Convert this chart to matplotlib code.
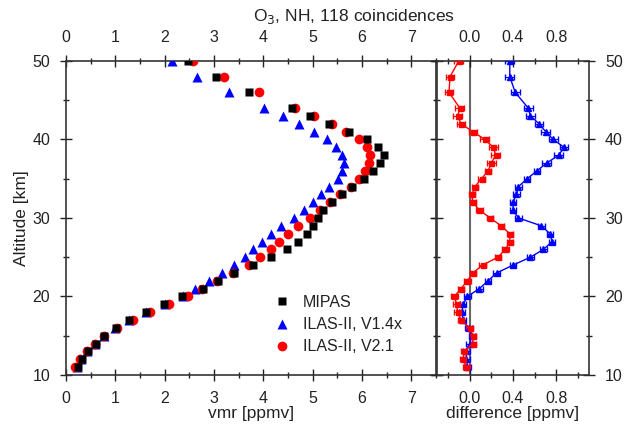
import matplotlib
matplotlib.use("Agg")
import matplotlib.pyplot as plt
from matplotlib.ticker import MultipleLocator

plt.rcParams['font.family'] = ['Liberation Sans', 'DejaVu Sans']
plt.rcParams['font.size'] = 11.5

# altitude grid [km]
alt = [11, 12, 13, 14, 15, 16, 17, 18, 19, 20, 21, 22, 23, 24, 25, 26, 27, 28,
       29, 30, 31, 32, 33, 34, 35, 36, 37, 38, 39, 40, 41, 42, 43, 44, 46, 48, 50]

# vmr profiles [ppmv]
mipas = [0.25, 0.32, 0.45, 0.60, 0.78, 1.01, 1.28, 1.62, 1.99, 2.35, 2.77, 3.09,
         3.41, 3.80, 4.16, 4.48, 4.71, 4.89, 5.00, 5.10, 5.22, 5.39, 5.59, 5.80,
         6.04, 6.23, 6.36, 6.44, 6.32, 6.10, 5.73, 5.34, 4.94, 4.58, 3.72, 3.04, 2.48]
ilas_v14 = [0.22, 0.30, 0.43, 0.58, 0.78, 1.00, 1.28, 1.62, 2.00, 2.38, 2.62, 2.90,
            3.17, 3.40, 3.62, 3.80, 3.97, 4.15, 4.35, 4.62, 4.83, 5.00, 5.17, 5.34,
            5.51, 5.59, 5.63, 5.59, 5.48, 5.29, 5.02, 4.73, 4.39, 4.02, 3.31, 2.65, 2.15]
ilas_v21 = [0.18, 0.28, 0.42, 0.58, 0.78, 1.03, 1.35, 1.70, 2.08, 2.47, 2.75, 3.06,
            3.39, 3.70, 3.94, 4.15, 4.32, 4.51, 4.71, 4.94, 5.14, 5.36, 5.55, 5.78,
            5.93, 6.06, 6.15, 6.17, 6.11, 5.95, 5.68, 5.39, 5.02, 4.65, 3.92, 3.21, 2.58]

# differences MIPAS - ILAS [ppmv]
diff_v14 = [-0.02, -0.03, -0.03, 0.00, 0.02, -0.01, -0.06, -0.07, -0.06, -0.02,
            0.09, 0.17, 0.25, 0.40, 0.56, 0.68, 0.76, 0.74, 0.66, 0.45, 0.40, 0.40,
            0.43, 0.45, 0.53, 0.62, 0.71, 0.82, 0.87, 0.77, 0.70, 0.64, 0.56, 0.54,
            0.42, 0.37, 0.37]
diff_v21 = [-0.03, -0.06, -0.05, 0.03, 0.03, 0.00, -0.08, -0.11, -0.12, -0.14,
            -0.08, -0.02, 0.03, 0.12, 0.26, 0.33, 0.37, 0.37, 0.29, 0.19, 0.09, 0.03,
            0.02, 0.05, 0.11, 0.17, 0.20, 0.24, 0.22, 0.14, 0.03, -0.08, -0.11, -0.09,
            -0.19, -0.18, -0.10]
diff_err = [0.03, 0.03, 0.03, 0.03, 0.03, 0.03, 0.03, 0.03, 0.03, 0.03,
            0.03, 0.03, 0.03, 0.03, 0.03, 0.03, 0.03, 0.03, 0.03, 0.03, 0.03, 0.03,
            0.03, 0.03, 0.03, 0.03, 0.04, 0.04, 0.04, 0.04, 0.04, 0.04, 0.04, 0.04,
            0.04, 0.04, 0.04]

txt = '#222222'
fig = plt.figure(figsize=(6.29, 4.24), dpi=100)
ax1 = fig.add_axes([0.1049, 0.1156, 0.5882, 0.7406])
ax2 = fig.add_axes([0.6948, 0.1156, 0.2417, 0.7406])

ax1.plot(ilas_v14, alt, '^', color='blue', ms=7.5, mec='none', label='ILAS-II, V1.4x', zorder=3)
ax1.plot(ilas_v21, alt, 'o', color='red', ms=7, mec='none', label='ILAS-II, V2.1', zorder=4)
ax1.plot(mipas, alt, 's', color='black', ms=6.3, mec='none', label='MIPAS', zorder=5)

ax1.set_xlim(0, 7.5)
ax1.set_ylim(10, 50)
ax1.xaxis.set_major_locator(MultipleLocator(1))
ax1.xaxis.set_minor_locator(MultipleLocator(0.5))
ax1.yaxis.set_major_locator(MultipleLocator(10))
ax1.yaxis.set_minor_locator(MultipleLocator(5))
ax1.set_xticks(range(0, 8))
ax1.tick_params(which='both', direction='inout', top=True, right=True,
                labeltop=True, colors=txt, width=1, pad=7)
ax1.tick_params(which='major', length=9)
ax1.tick_params(which='minor', length=5)
ax1.set_xlabel('vmr [ppmv]', color=txt, fontsize=12.5, labelpad=0)
ax1.set_ylabel('Altitude [km]', color=txt, fontsize=12.5, labelpad=2)

h, l = ax1.get_legend_handles_labels()
order = [2, 0, 1]
ax1.legend([h[i] for i in order], [l[i] for i in order], frameon=False,
           loc='lower left', bbox_to_anchor=(0.52, 0.02), handletextpad=0.7,
           labelspacing=0.45, handlelength=1.2, fontsize=11.5, labelcolor=txt)

ax2.axvline(0, color='#666666', lw=1.5, zorder=1)
ax2.errorbar(diff_v14, alt, xerr=diff_err, fmt='-^', color='blue', ms=4,
             lw=1, elinewidth=0.8, capsize=2.5, zorder=3)
ax2.errorbar(diff_v21, alt, xerr=diff_err, fmt='-s', color='red', ms=3.6,
             lw=1, elinewidth=0.8, capsize=2.5, zorder=3)
ax2.set_xlim(-0.3, 1.1)
ax2.set_ylim(10, 50)
ax2.set_xticks([0.0, 0.4, 0.8])
ax2.set_xticklabels(['0.0', '0.4', '0.8'])
ax2.xaxis.set_minor_locator(MultipleLocator(0.2))
ax2.yaxis.set_major_locator(MultipleLocator(10))
ax2.yaxis.set_minor_locator(MultipleLocator(5))
ax2.tick_params(which='both', direction='inout', top=True, right=True, left=True,
                labeltop=True, labelleft=False, labelright=True, colors=txt,
                width=1, pad=7)
ax2.tick_params(which='major', length=9)
ax2.tick_params(which='minor', length=5)
ax2.set_xlabel('difference [ppmv]', color=txt, fontsize=12.5, labelpad=0)

for ax in (ax1, ax2):
    for s in ax.spines.values():
        s.set_color('#333333')
        s.set_linewidth(1.2)

fig.text(0.563, 0.962, 'O$_3$, NH, 118 coincidences', ha='center', va='center',
         fontsize=12.5, color=txt)

fig.savefig('out.png', dpi=100)
